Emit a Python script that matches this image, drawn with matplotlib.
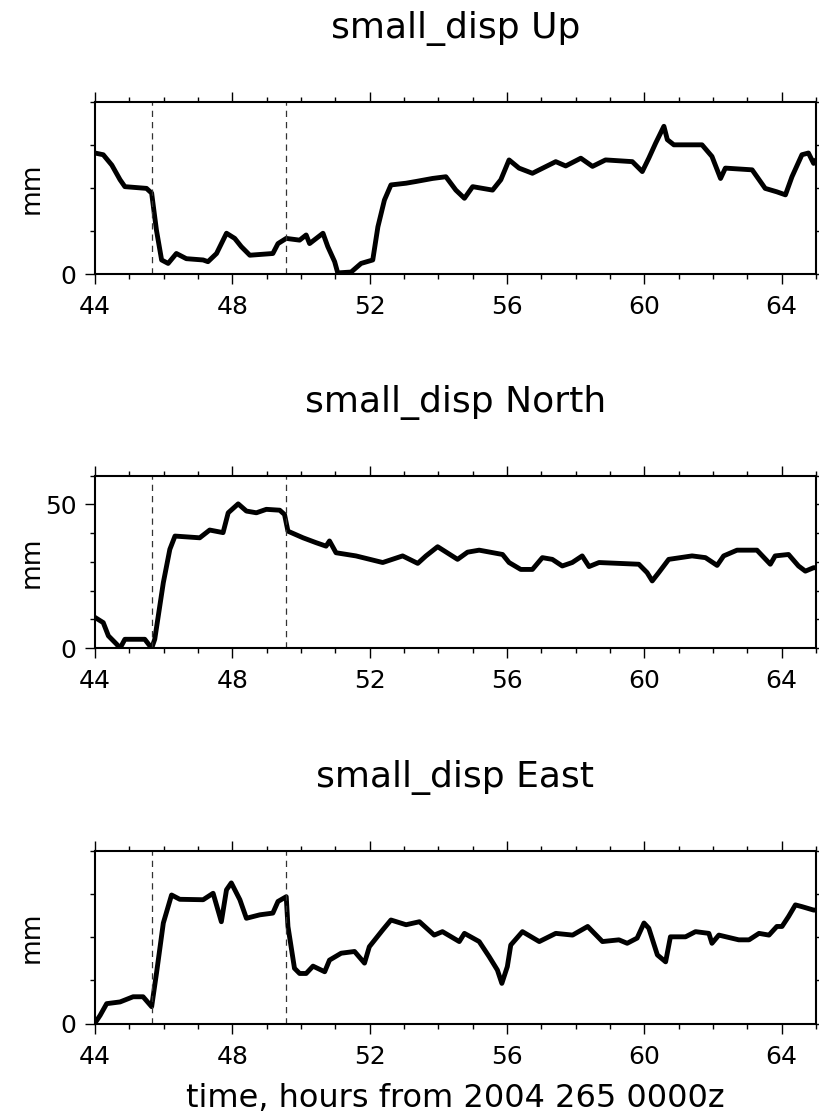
import matplotlib
matplotlib.use("Agg")
import matplotlib.pyplot as plt
from matplotlib.ticker import MultipleLocator

# hours from 2004 265 0000z, displacement in mm
t_up = [44.0, 44.24, 44.49, 44.73, 44.87, 45.5, 45.65, 45.79, 45.94, 46.13, 46.37, 46.66,
        47.15, 47.29, 47.54, 47.83, 48.07, 48.26, 48.51, 49.18, 49.33, 49.57, 49.96, 50.15,
        50.25, 50.64, 50.78, 50.98, 51.07, 51.46, 51.75, 52.09, 52.24, 52.43, 52.62, 53.06,
        53.35, 53.83, 54.22, 54.51, 54.76, 55.0, 55.58, 55.82, 56.06, 56.35, 56.74, 57.42,
        57.71, 58.15, 58.49, 58.87, 59.65, 59.94, 60.13, 60.33, 60.57, 60.67, 60.86, 61.68,
        61.97, 62.22, 62.36, 63.14, 63.52, 63.86, 64.11, 64.3, 64.59, 64.78, 64.93, 65.0]
up_mm = [28.1, 27.7, 25.3, 21.9, 20.3, 19.9, 18.8, 10.2, 3.3, 2.5, 4.8, 3.6,
         3.3, 2.9, 4.8, 9.5, 8.3, 6.4, 4.4, 4.8, 7.1, 8.3, 7.9, 9.1,
         7.1, 9.5, 6.4, 2.9, 0.3, 0.5, 2.5, 3.3, 11.0, 17.2, 20.7, 21.1,
         21.5, 22.2, 22.6, 19.5, 17.6, 20.3, 19.5, 21.9, 26.5, 24.6, 23.4, 26.1,
         25.1, 26.9, 25.0, 26.5, 26.1, 23.8, 26.9, 30.4, 34.3, 31.2, 30.0, 30.0,
         27.3, 22.2, 24.6, 24.2, 19.9, 19.1, 18.4, 22.6, 27.7, 28.1, 25.7, 26.5]

t_north = [44.0, 44.24, 44.39, 44.63, 44.73, 44.87, 45.45, 45.65, 45.74, 45.99, 46.18, 46.33,
           47.05, 47.34, 47.73, 47.88, 48.17, 48.41, 48.7, 48.99, 49.38, 49.52, 49.62, 50.06,
           50.44, 50.73, 50.83, 51.02, 51.6, 52.38, 52.96, 53.4, 53.64, 53.98, 54.56, 54.85,
           55.19, 55.87, 56.06, 56.4, 56.74, 57.03, 57.32, 57.61, 57.9, 58.19, 58.39, 58.68,
           59.84, 60.08, 60.23, 60.42, 60.71, 61.39, 61.78, 62.12, 62.31, 62.7, 63.28, 63.67,
           63.81, 64.2, 64.49, 64.69, 64.93, 65.0]
north_mm = [10.7, 8.9, 4.3, 1.4, 0.0, 3.1, 3.1, 0.0, 3.1, 22.8, 34.4, 39.0,
            38.4, 41.1, 40.2, 47.1, 50.2, 47.7, 47.1, 48.3, 48.0, 46.5, 40.7, 38.4,
            36.7, 35.5, 37.3, 33.2, 32.1, 29.8, 32.1, 29.5, 32.1, 35.3, 30.9, 33.4,
            34.1, 32.6, 29.8, 27.4, 27.4, 31.5, 30.9, 28.6, 29.8, 32.1, 28.4, 29.8,
            29.2, 26.3, 23.4, 26.3, 30.9, 32.1, 31.5, 28.8, 32.1, 34.1, 34.1, 29.2,
            32.1, 32.6, 28.6, 26.8, 28.0, 28.0]

t_east = [44.0, 44.15, 44.34, 44.73, 45.11, 45.4, 45.65, 45.79, 45.99, 46.23, 46.47, 47.15,
          47.44, 47.68, 47.83, 47.97, 48.22, 48.41, 48.8, 49.18, 49.33, 49.57, 49.62, 49.81,
          49.96, 50.15, 50.35, 50.69, 50.83, 51.17, 51.56, 51.85, 51.99, 52.38, 52.62, 53.06,
          53.45, 53.88, 54.12, 54.61, 54.76, 55.19, 55.48, 55.72, 55.85, 56.01, 56.11, 56.45,
          56.94, 57.42, 57.91, 58.35, 58.78, 59.26, 59.5, 59.79, 59.99, 60.13, 60.38, 60.62,
          60.76, 61.2, 61.49, 61.88, 61.97, 62.17, 62.75, 63.05, 63.34, 63.63, 63.86, 64.01,
          64.2, 64.4, 64.59, 64.93, 65.0]
east_mm = [0.1, 1.9, 4.6, 5.0, 6.2, 6.2, 3.9, 11.6, 23.3, 29.8, 28.8, 28.7,
           30.2, 23.6, 31.0, 32.6, 28.7, 24.4, 25.2, 25.6, 28.3, 29.4, 22.5, 12.8,
           11.6, 11.6, 13.3, 12.0, 14.7, 16.3, 16.7, 14.0, 17.8, 21.7, 24.0, 22.9,
           23.6, 20.5, 21.3, 19.0, 20.9, 19.0, 15.5, 12.4, 9.3, 13.2, 18.2, 21.3,
           19.0, 20.9, 20.5, 22.5, 19.0, 19.4, 18.6, 19.8, 23.3, 22.1, 15.9, 14.3,
           20.1, 20.1, 21.3, 20.9, 18.6, 20.5, 19.4, 19.4, 20.9, 20.5, 22.5, 22.5,
           24.8, 27.5, 27.1, 26.3, 26.3]

event_times = [45.67, 49.57]
titles = ["small_disp Up", "small_disp North", "small_disp East"]
ymaxes = [40, 60, 40]

W, H = 819, 1116
ax_left, ax_right = 95, 816
ax_tops = [101.7, 475.7, 851.0]
ax_h = 172.5


def draw(ax, t, v, title, ymax):
    ax.plot(t, v, color='black', lw=3.5, solid_joinstyle='round', solid_capstyle='round')
    for te in event_times:
        ax.axvline(te, color='#333333', lw=0.9, ls=(0, (5, 4)))
    ax.set_xlim(44, 65)
    ax.set_ylim(0, ymax)
    ax.xaxis.set_major_locator(MultipleLocator(4))
    ax.xaxis.set_minor_locator(MultipleLocator(1))
    ax.yaxis.set_major_locator(MultipleLocator(50))
    ax.yaxis.set_minor_locator(MultipleLocator(10))
    ax.tick_params(which='both', direction='out', top=True, right=True,
                   width=1.0, labelsize=18, colors='black')
    ax.tick_params(which='major', length=7.2)
    ax.tick_params(which='minor', length=3.6)
    ax.tick_params(axis='x', pad=8)
    ax.tick_params(axis='y', pad=6)
    for s in ax.spines.values():
        s.set_linewidth(1.5)
    ax.set_title(title, fontsize=26, pad=46)
    ax.set_ylabel('mm', fontsize=19)
    ax.yaxis.set_label_coords((45 - ax_left) / (ax_right - ax_left), 0.5)


fig = plt.figure(figsize=(W / 100, H / 100), dpi=100, facecolor='white')
series = [(t_up, up_mm), (t_north, north_mm), (t_east, east_mm)]
for i, (t, v) in enumerate(series):
    top = ax_tops[i]
    ax = fig.add_axes([ax_left / W, 1 - (top + ax_h) / H, (ax_right - ax_left) / W, ax_h / H])
    draw(ax, t, v, titles[i], ymaxes[i])

fig.text((ax_left + ax_right) / 2 / W, 1 - 1107 / H, 'time, hours from 2004 265 0000z',
         fontsize=23, ha='center', va='baseline')

fig.savefig('out.png', dpi=100)
